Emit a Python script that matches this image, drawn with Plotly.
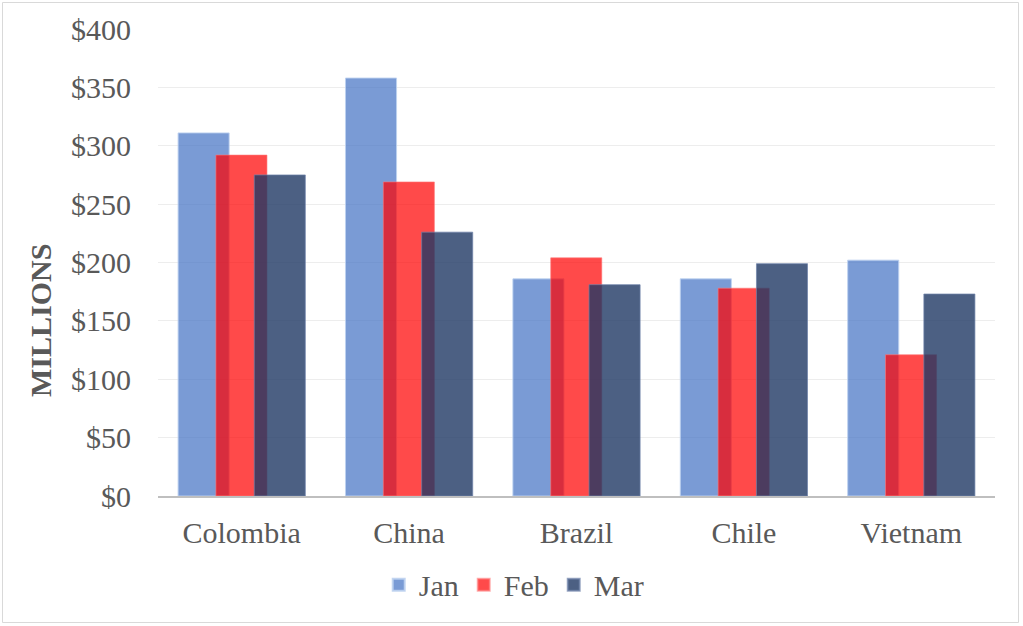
import plotly.graph_objects as go

categories = ["Colombia", "China", "Brazil", "Chile", "Vietnam"]
jan = [311, 358, 186, 186, 202]
feb = [292, 269, 204, 178, 121]
mar = [275, 226, 181, 199, 173]
series_names = ["Jan", "Feb", "Mar"]
tick_vals = [0, 50, 100, 150, 200, 250, 300, 350, 400]
tick_text = ["$0", "$50", "$100", "$150", "$200", "$250", "$300", "$350", "$400"]

W, H = 1023, 626
L, R, T, B = 158, 28, 29, 130

fills = ["rgba(68,114,196,0.71)", "rgba(255,0,0,0.71)", "rgba(31,56,100,0.80)"]
edges = ["rgba(190,210,240,0.9)", "rgba(255,120,120,0.6)", "rgba(110,130,170,0.7)"]
offsets = [-0.38, -0.154, 0.075]
width = 0.305

fig = go.Figure()
for name, vals, fc, ec, off in zip(series_names, [jan, feb, mar], fills, edges, offsets):
    fig.add_trace(go.Bar(
        x=categories, y=vals, name=name,
        marker=dict(color=fc, line=dict(color=ec, width=1)),
        offset=off, width=width,
    ))

font_family = "Liberation Serif, Times New Roman, serif"
fig.update_layout(
    width=W, height=H,
    margin=dict(l=L, r=R, t=T, b=B),
    barmode="overlay",
    paper_bgcolor="white", plot_bgcolor="white",
    font=dict(family=font_family, size=30, color="#595959"),
    showlegend=True,
    legend=dict(orientation="h", x=0.425, xanchor="center", y=-0.19, yanchor="middle",
                font=dict(size=30, color="#595959"), itemsizing="constant",
                bgcolor="rgba(0,0,0,0)"),
    xaxis=dict(showgrid=False, showline=True, linecolor="#BFBFBF", linewidth=2,
               ticks="", ticklabelstandoff=9, tickfont=dict(size=30, color="#595959")),
    yaxis=dict(range=[0, 400], tickvals=tick_vals, ticktext=tick_text,
               showgrid=True, gridcolor="#EDEDED", gridwidth=1, zeroline=False,
               showline=False, ticks="", ticklabelstandoff=26,
               tickfont=dict(size=30, color="#595959")),
)

plot_w = W - L - R
plot_h = H - T - B
fig.add_annotation(
    text="<b>MILLIONS</b>", textangle=-90, showarrow=False,
    xref="paper", yref="paper",
    x=(40 - L) / plot_w, y=(H - B - 321) / plot_h,
    xanchor="center", yanchor="middle",
    font=dict(family=font_family, size=30, color="#595959"),
)

fig.add_shape(
    type="rect", xref="paper", yref="paper",
    x0=(2.5 - L) / plot_w, x1=(1018.5 - L) / plot_w,
    y0=(H - B - 622.5) / plot_h, y1=(H - B - 2.5) / plot_h,
    line=dict(color="#D9D9D9", width=1), fillcolor="rgba(0,0,0,0)", layer="below",
)

fig.write_html(
    "out.html",
    config={"displayModeBar": False},
    post_script="document.body.style.margin='0';document.body.style.padding='0';document.body.style.overflow='hidden';",
)
